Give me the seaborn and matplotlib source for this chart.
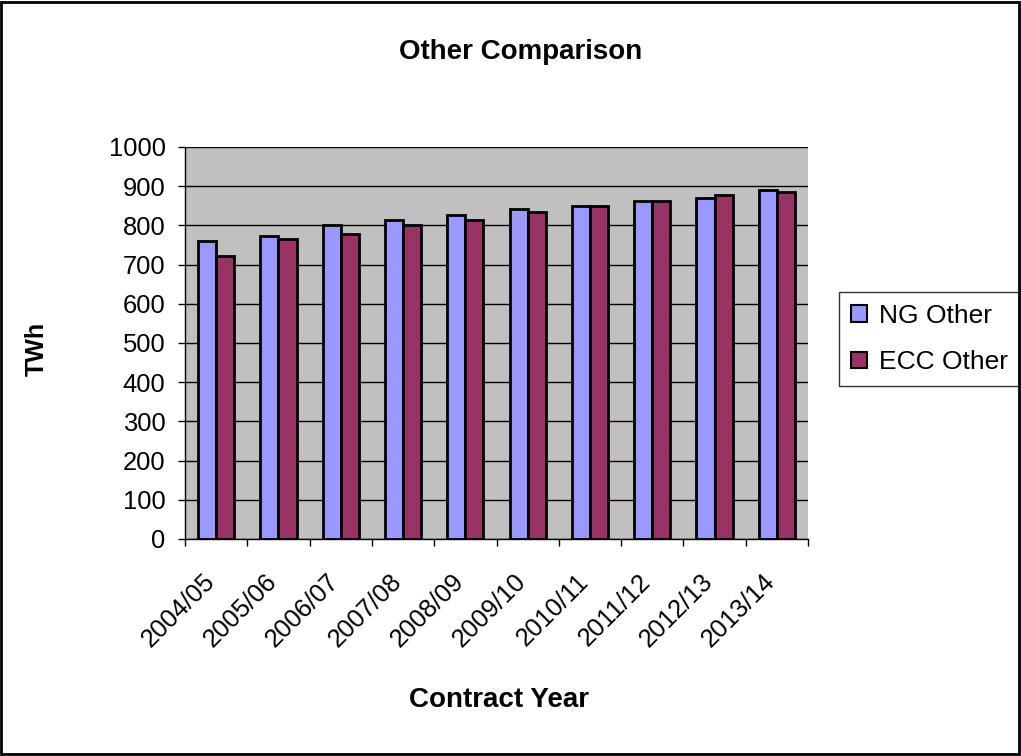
import matplotlib
matplotlib.use("Agg")
import matplotlib.pyplot as plt
import matplotlib.patches as mpatches
import numpy as np
import pandas as pd
import seaborn as sns

years = ["2004/05", "2005/06", "2006/07", "2007/08", "2008/09",
         "2009/10", "2010/11", "2011/12", "2012/13", "2013/14"]
ng_other = [760, 773, 800, 815, 827, 842, 849, 862, 870, 890]
ecc_other = [723, 766, 779, 800, 815, 835, 849, 862, 877, 884]
series = ["NG Other", "ECC Other"]
colors = ["#9999FF", "#993366"]

df = pd.DataFrame({
    "year": years * 2,
    "twh": ng_other + ecc_other,
    "series": [series[0]] * len(years) + [series[1]] * len(years),
})

sns.set_style("white")
plt.rcParams["font.family"] = ["Liberation Sans", "DejaVu Sans"]
plt.rcParams["text.color"] = "black"
plt.rcParams["axes.labelcolor"] = "black"
plt.rcParams["xtick.color"] = "black"
plt.rcParams["ytick.color"] = "black"

W, H = 1021, 756
fig = plt.figure(figsize=(W / 100, H / 100), dpi=100)
ax = fig.add_axes([185 / W, 1 - 539 / H, 623 / W, 392 / H])
ax.set_facecolor("#C0C0C0")

sns.barplot(data=df, x="year", y="twh", hue="series", hue_order=series,
            palette=colors, width=0.58, gap=0, edgecolor="black",
            linewidth=2, saturation=1, ax=ax, legend=False)

ax.set_ylim(0, 1000)
ax.set_xlim(-0.5, len(years) - 0.5)
ax.set_yticks(np.arange(0, 1001, 100))
ax.yaxis.grid(True, color="black", linewidth=1)
ax.set_axisbelow(True)
ax.tick_params(axis="y", labelsize=18.4, length=5, width=1, direction="out",
               left=True, color="black", labelcolor="black", pad=9)

# category boundaries carry the tick marks; centres carry the labels
ax.set_xticks(np.arange(-0.5, len(years), 1.0))
ax.set_xticklabels([])
ax.set_xticks(np.arange(len(years)) - 0.22, minor=True)
ax.set_xticklabels(years, minor=True, rotation=45, ha="right",
                   rotation_mode="anchor", fontsize=18.4)
ax.tick_params(axis="x", which="major", length=5, width=1, direction="out",
               bottom=True, color="black")
ax.tick_params(axis="x", which="minor", length=0, pad=22, labelcolor="black")

for side in ["top", "right"]:
    ax.spines[side].set_visible(False)
for side in ["left", "bottom"]:
    ax.spines[side].set_color("black")
    ax.spines[side].set_linewidth(1)

ax.set_xlabel("Contract Year", fontsize=20, fontweight="bold")
ax.xaxis.set_label_coords(499 / W, 1 - 700 / H, transform=fig.transFigure)
ax.xaxis.label.set_va("center")
ax.set_ylabel("TWh", fontsize=18, fontweight="bold")
ax.yaxis.set_label_coords(37 / W, 1 - 349 / H, transform=fig.transFigure)
ax.yaxis.label.set_va("center")
fig.text(521 / W, 1 - 52 / H, "Other Comparison", ha="center", va="center",
         fontsize=20, fontweight="bold", color="black")

handles = [mpatches.Patch(facecolor=c, edgecolor="black", linewidth=1.5)
           for c in colors]
leg = ax.legend(handles, series, loc="upper left",
                bbox_to_anchor=(839 / W, 1 - 292 / H),
                bbox_transform=fig.transFigure, fontsize=19, frameon=True,
                fancybox=False, edgecolor="black", handlelength=0.6,
                handleheight=0.6, handletextpad=0.45, labelspacing=0.85,
                borderpad=0.45, borderaxespad=0)
leg.get_frame().set_linewidth(1)
for t in leg.get_texts():
    t.set_color("black")

fig.patches.append(mpatches.Rectangle((0.001, 0.002), 0.997, 0.996,
                                      transform=fig.transFigure, fill=False,
                                      edgecolor="black", linewidth=2))

fig.savefig("out.png", dpi=100, facecolor="white")
